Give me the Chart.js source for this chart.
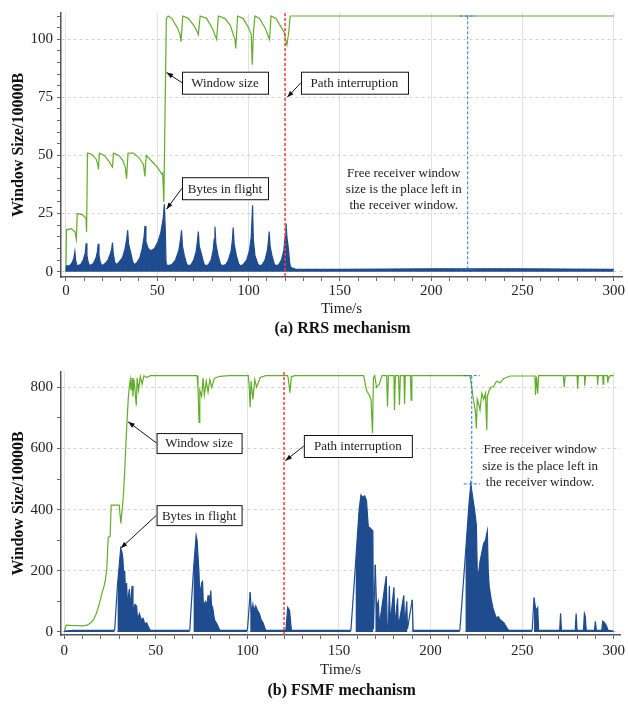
<!DOCTYPE html>
<html>
<head>
<meta charset="utf-8">
<script src="https://cdn.jsdelivr.net/npm/chart.js@4.4.1/dist/chart.umd.min.js"></script>
<style>
  body { margin: 0; background: #fff; width: 628px; height: 705px; overflow: hidden; }
  .panel { position: absolute; left: 0; width: 628px; }
</style>
</head>
<body>
<div class="panel" style="top:0;height:340px"><canvas id="rrs" width="628" height="340"></canvas></div>
<div class="panel" style="top:340px;height:365px"><canvas id="fsmf" width="628" height="365"></canvas></div>
<script>
// tick labels and tick marks
const timeTicks = [0, 50, 100, 150, 200, 250, 300];
const timeMarks = [0, 10, 20, 30, 40, 50, 60, 70, 80, 90, 100, 110, 120, 130, 140, 150, 160, 170, 180, 190,
  200, 210, 220, 230, 240, 250, 260, 270, 280, 290, 300];
const rrsTicks = [0, 25, 50, 75, 100];
const rrsMarks = [0, 5, 10, 15, 20, 25, 30, 35, 40, 45, 50, 55, 60, 65, 70, 75, 80, 85, 90, 95, 100, 105, 110];
const fsmfTicks = [0, 200, 400, 600, 800];
const fsmfMarks = [0, 100, 200, 300, 400, 500, 600, 700, 800];

// (a) RRS: [time s, size /10000B]
const rrsWindow = [
  [0, 0], [0.3, 18], [3, 18.5], [5, 17], [5.7, 14], [6.2, 25], [9, 24.5], [11, 23], [11.3, 17],
  [11.8, 51], [14, 50.5], [16.5, 48.5], [17.5, 46], [17.8, 44], [18.3, 51], [21, 50], [24, 47],
  [25, 45.5], [25.5, 45], [26, 51], [29, 50], [31, 48], [32.5, 45], [33.2, 40], [34, 51], [37, 51],
  [40, 49], [42.5, 46], [43.2, 41], [44, 50], [47, 47.5], [50, 45], [52.5, 42], [53, 42.5], [53.6, 30],
  [54.3, 70], [55, 109], [56, 110], [58, 109], [61, 105], [62.5, 102], [63, 99], [64, 110], [67, 109],
  [70, 106], [72, 103], [72.5, 102], [73.5, 110], [77, 109], [80, 105], [82, 101], [82.5, 100],
  [83.5, 110], [87, 109], [90, 106], [92.5, 100], [93, 96], [94, 110], [97, 109], [100, 105],
  [101.5, 102], [102, 89], [102.7, 103], [103.5, 110], [106, 109], [109, 105], [111, 101], [111.5, 100],
  [112.3, 110], [115, 109], [118, 105], [119.5, 103], [120.5, 99], [121, 97.5], [122, 103], [122.8, 110],
  [150, 110], [200, 110], [250, 110], [300, 110]
];
const rrsFlight = [
  [0, 0], [0.3, 2.5], [2, 2.5], [3.5, 4], [4.4, 6], [4.9, 8.6], [5.3, 5], [6, 2.5],
  [8, 3], [9.5, 5], [10.6, 8], [11.1, 12.2], [11.5, 7], [12.2, 4], [13, 2.5],
  [15, 3.5], [16.5, 6], [17.2, 8.5], [17.7, 12], [18.1, 7], [18.8, 4], [19.8, 2.5],
  [21.5, 3.5], [23, 5], [24.5, 8], [25.1, 10], [25.5, 12.5], [25.9, 8], [26.7, 4], [27.8, 3],
  [29, 4], [31, 6], [32.4, 10], [33.3, 14], [33.8, 17.8], [34.3, 12], [35.5, 8], [36.5, 4.5], [37.5, 3],
  [39, 4], [40.5, 6], [41.8, 10], [42.8, 15], [43.3, 19.6], [43.8, 13], [45, 10], [46.5, 9], [48.5, 10],
  [50.5, 13], [52, 17], [53.3, 23], [53.9, 29], [54.4, 18], [54.8, 4], [55.5, 2.5],
  [58, 3], [60, 5], [61.8, 9], [62.8, 14], [63.3, 17.8], [63.8, 11], [64.8, 7], [66, 3.5], [67, 2.5],
  [68.5, 3], [70, 5], [71.3, 8.6], [72, 13], [72.5, 17.3], [73, 11], [74.4, 7], [75.5, 3.5], [76.5, 2.5],
  [78, 3], [79.5, 5], [80.6, 9], [81.2, 14], [81.6, 19.3], [82.1, 12], [83.3, 7], [84.5, 3.5], [85.5, 2.5],
  [87.5, 3], [89, 5], [90.5, 9], [91.2, 14], [91.6, 19], [92.1, 12], [93.3, 7], [94.5, 3.5], [95.5, 2.5],
  [97, 3], [99, 5], [100.5, 9], [101.5, 15], [102.2, 28.6], [102.6, 14], [103.5, 7], [105, 3.5], [106, 2.5],
  [107.5, 3], [109, 5], [110.3, 9], [110.9, 13], [111.3, 17.3], [111.8, 11], [112.8, 7], [114, 3.5], [115, 2.5],
  [116.5, 3], [118, 5], [119.3, 9], [120, 15], [120.5, 20.7], [121, 15], [121.8, 10], [122.5, 4], [123, 2],
  [124, 1.5], [126, 1], [150, 1], [200, 1.2], [250, 1.2], [300, 1]
];

// (b) FSMF
const fsmfWindow = [
  [0, 0], [1, 22], [5, 21], [10, 20], [12.5, 22], [14.5, 30], [16, 40], [17.5, 60], [18.7, 83],
  [19.7, 105], [20.5, 126], [21.5, 145], [22.3, 165], [23.2, 205], [24, 310], [25, 312], [25.6, 415],
  [30, 415], [30.5, 380], [30.9, 355], [31.9, 420], [32.5, 470], [33, 530], [34, 660], [35, 770],
  [35.5, 800], [36, 825], [36.5, 790], [37, 830], [37.5, 770], [38, 825], [38.5, 800], [39.3, 740],
  [39.8, 830], [40.5, 790], [41.5, 835], [42.5, 810], [43.5, 838], [45, 832], [47, 838], [72.5, 838],
  [73, 800], [73.6, 685], [74, 790], [75, 770], [75.8, 830], [76.5, 775], [77.5, 820], [78.5, 785],
  [79.5, 825], [80.5, 800], [82, 830], [85, 836], [90, 838], [100.5, 838], [101, 800], [101.5, 735],
  [102, 820], [103, 760], [104, 825], [105, 800], [107, 832], [110, 838], [122, 838], [122.5, 820],
  [123.2, 782], [124, 835], [126, 838], [163.5, 838], [165, 790], [166.5, 775], [167.5, 760],
  [168.3, 650], [168.8, 830], [169.5, 838], [170.5, 800], [172, 810], [173.5, 838], [176, 838],
  [176.5, 737], [177, 838], [180, 838], [180.3, 726], [180.8, 838], [182.5, 838], [183, 742],
  [183.5, 838], [185.5, 838], [185.8, 745], [186.2, 838], [189, 838], [189.4, 758], [189.8, 838],
  [221.5, 838], [222.5, 800], [223.4, 760], [224.5, 720], [225, 666], [225.5, 760], [226.5, 740],
  [227, 726], [228, 780], [229, 760], [230, 780], [230.7, 660], [231, 770], [232, 790], [233, 800],
  [234.4, 802], [236, 820], [238, 815], [240, 829], [243.6, 837], [257, 837], [257.3, 775], [257.8, 835],
  [258.5, 780], [259, 838], [272.5, 838], [273, 800], [273.5, 838], [280, 838], [280.3, 795],
  [280.7, 838], [284, 838], [284.2, 805], [284.6, 838], [291, 838], [291.2, 808], [291.6, 838],
  [294, 838], [294.2, 810], [294.6, 838], [296.5, 838], [296.8, 815], [297.2, 830], [298, 838], [300, 838]
];
const fsmfFlight = [
  [0, 3], [5, 5], [27.5, 5], [29, 150], [30.8, 273], [31.5, 260], [32, 240], [32.5, 180], [33, 200],
  [33.5, 110], [34, 160], [34.5, 90], [35.5, 140], [36, 80], [37, 150], [37.5, 60], [38.5, 90],
  [39.5, 85], [40, 40], [41, 60], [42, 40], [43, 45], [44, 25], [45, 30], [46, 15], [47, 5], [68.5, 5],
  [70.5, 200], [72, 315], [72.5, 300], [73.5, 200], [74, 120], [75, 160], [75.5, 165], [76, 80],
  [77, 100], [78, 90], [78.5, 120], [79, 60], [80, 135], [80.5, 70], [81, 80], [82, 40], [83, 30],
  [85, 5], [100, 5], [101.5, 130], [102.2, 60], [103, 90], [103.5, 70], [104.5, 85], [105.5, 70],
  [106.5, 60], [107.5, 40], [108.5, 30], [110, 5], [121, 5], [122, 80], [123, 70], [124, 5],
  [156.5, 5], [159, 220], [161, 400], [162, 448], [163, 440], [164, 445], [165, 430], [166, 344],
  [167, 340], [168.5, 330], [168.8, 10], [169.8, 220], [170.5, 80], [171.5, 100], [172, 20],
  [175.8, 183], [176.3, 20], [177, 20], [177.5, 150], [178, 30], [180, 146], [180.5, 20], [182, 110],
  [182.4, 15], [185.4, 120], [185.8, 15], [187, 100], [187.4, 10], [190, 105], [190.5, 5], [216, 5],
  [219, 250], [221, 420], [222, 484], [223, 440], [224, 400], [225, 350], [225.5, 200], [226, 180],
  [227, 230], [228, 260], [229, 290], [230, 300], [231, 330], [231.5, 200], [232, 150], [233, 110],
  [234, 80], [235, 60], [236, 45], [237, 50], [238, 40], [240, 30], [242, 10], [243, 5], [255.5, 5],
  [256.5, 112], [257.5, 70], [258.5, 80], [259, 5], [270.5, 5], [271, 61], [271.5, 5], [279, 5],
  [279.5, 60], [280, 5], [283.5, 5], [284, 60], [284.5, 50], [285, 5], [289.5, 5], [290, 35],
  [290.5, 5], [293.5, 5], [294, 35], [295, 30], [296, 20], [297, 5], [300, 3]
];

Chart.defaults.font.family = '"Liberation Serif", "Times New Roman", serif';
Chart.defaults.color = '#222';

const GREEN = '#62ad28';
const BLUE = '#1f4c8f';

// callouts, cut line, free-window marker, caption
const notes = {
  id: 'notes',
  afterDatasetsDraw(chart, args, o) {
    const { ctx, chartArea: a } = chart;
    const x = chart.scales.x, y = chart.scales.y;
    ctx.save();

    // path interruption line
    const rx = x.getPixelForValue(o.cut);
    ctx.strokeStyle = '#ff3b3b';
    ctx.lineWidth = 1.5;
    ctx.setLineDash([3, 2]);
    ctx.beginPath(); ctx.moveTo(rx, a.top); ctx.lineTo(rx, a.bottom); ctx.stroke();

    // free receiver window span
    const fx = x.getPixelForValue(o.free.x);
    const f1 = y.getPixelForValue(o.free.y1), f2 = y.getPixelForValue(o.free.y2);
    ctx.strokeStyle = '#2f6fd6';
    ctx.lineWidth = 1;
    ctx.setLineDash([3, 2]);
    ctx.beginPath();
    ctx.moveTo(fx, f1); ctx.lineTo(fx, f2);
    ctx.moveTo(fx - 8, f1); ctx.lineTo(fx + 8, f1);
    ctx.moveTo(fx - 8, f2); ctx.lineTo(fx + 8, f2);
    ctx.stroke();
    ctx.setLineDash([]);

    ctx.font = '13px "Liberation Serif"';
    ctx.textAlign = 'center';
    ctx.textBaseline = 'middle';
    ctx.fillStyle = '#222';
    const tx = x.getPixelForValue(o.text.x);
    o.text.lines.forEach(l => ctx.fillText(l[1], tx, y.getPixelForValue(l[0])));

    // callout boxes
    o.boxes.forEach(b => {
      const cx = x.getPixelForValue(b.x), cy = y.getPixelForValue(b.y);
      const px = x.getPixelForValue(b.tip[0]), py = y.getPixelForValue(b.tip[1]);
      const left = cx - b.w / 2;
      ctx.strokeStyle = '#111';
      ctx.fillStyle = '#111';
      ctx.lineWidth = 1;
      ctx.beginPath(); ctx.moveTo(left, cy); ctx.lineTo(px, py); ctx.stroke();
      const ang = Math.atan2(py - cy, px - left);
      ctx.beginPath();
      ctx.moveTo(px, py);
      ctx.lineTo(px - 7 * Math.cos(ang - 0.35), py - 7 * Math.sin(ang - 0.35));
      ctx.lineTo(px - 7 * Math.cos(ang + 0.35), py - 7 * Math.sin(ang + 0.35));
      ctx.closePath(); ctx.fill();
      ctx.fillStyle = '#fff';
      ctx.fillRect(left, cy - b.h / 2, b.w, b.h);
      ctx.strokeRect(left + 0.5, cy - b.h / 2 + 0.5, b.w, b.h);
      ctx.fillStyle = '#222';
      ctx.fillText(b.text, cx, cy + 1);
    });

    // caption
    ctx.font = 'bold 16px "Liberation Serif"';
    ctx.fillStyle = '#111';
    ctx.fillText(o.caption, (a.left + a.right) / 2 + 1, a.bottom + o.captionGap);
    ctx.restore();
  }
};

// steep climbs from the floor are drawn as a bare line, not filled
const rampFill = c => (c.p0.parsed.y <= 10 && c.p1.parsed.y >= 100) ? 'rgba(0,0,0,0)' : undefined;

function makeChart(id, c) {
  return new Chart(document.getElementById(id), {
    type: 'line',
    data: {
      datasets: [{
        label: 'Bytes in flight',
        data: c.flight,
        borderColor: BLUE,
        backgroundColor: BLUE,
        borderWidth: 1.2,
        fill: 'origin',
        pointRadius: 0,
        tension: 0,
        segment: { backgroundColor: rampFill }
      }, {
        label: 'Window size',
        data: c.window,
        borderColor: GREEN,
        borderWidth: 1.2,
        fill: false,
        pointRadius: 0,
        tension: 0
      }]
    },
    plugins: [notes],
    options: {
      responsive: false,
      animation: false,
      layout: { padding: c.padding },
      plugins: {
        legend: { display: false },
        tooltip: { enabled: false },
        notes: c.notes
      },
      scales: {
        x: {
          type: 'linear',
          min: c.xMin,
          max: c.xMax,
          afterBuildTicks: s => { s.ticks = timeMarks.map(v => ({ value: v })); },
          afterFit: s => { s.height = c.xHeight; },
          ticks: {
            font: { size: 15 }, color: '#222', padding: c.xPad, maxRotation: 0, autoSkip: false,
            callback: v => timeTicks.includes(v) ? String(v) : ''
          },
          grid: {
            color: g => timeTicks.includes(g.tick && g.tick.value) ? '#e2e2e2' : 'rgba(0,0,0,0)',
            tickLength: 4, tickColor: '#666'
          },
          border: { color: '#555', width: 1.5 },
          title: { display: true, text: 'Time/s', font: { size: 15 }, color: '#222', padding: { top: 0, bottom: 1 } }
        },
        y: {
          min: c.yMin,
          max: c.yMax,
          afterBuildTicks: s => { s.ticks = c.yMarks.map(v => ({ value: v })); },
          afterFit: s => { s.width = 61; },
          ticks: {
            font: { size: 15 }, color: '#222', padding: 4, autoSkip: false,
            callback: v => c.yTicks.includes(v) ? String(v) : ''
          },
          grid: {
            color: g => c.yTicks.includes(g.tick && g.tick.value) ? '#d2d2d2' : 'rgba(0,0,0,0)',
            tickLength: 4, tickColor: '#666'
          },
          border: { color: '#555', width: 1.5, dash: [3, 3] },
          title: { display: true, text: 'Window Size/10000B', font: { size: 16, weight: 'bold' }, color: '#111', padding: { top: 9, bottom: 0 } }
        }
      }
    }
  });
}

makeChart('rrs', {
  flight: rrsFlight, window: rrsWindow, yTicks: rrsTicks, yMarks: rrsMarks,
  xMin: -2.7, xMax: 304.5, yMin: -2.3, yMax: 111.3,
  padding: { top: 12, right: 6, bottom: 21, left: 0 },
  xHeight: 42, xPad: 1,
  notes: {
    cut: 120,
    free: { x: 220, y1: 1, y2: 110 },
    text: { x: 185, lines: [[42.3, 'Free receiver window'], [35.4, 'size is the place left in'], [28.5, 'the receiver window.']] },
    boxes: [
      { text: 'Window size', x: 87.1, y: 81.3, w: 86, h: 22, tip: [55.1, 85.7] },
      { text: 'Bytes in flight', x: 87.1, y: 35.9, w: 86, h: 22, tip: [55.1, 26.9] },
      { text: 'Path interruption', x: 158, y: 81.3, w: 107, h: 22, tip: [121.2, 75] }
    ],
    caption: '(a) RRS mechanism',
    captionGap: 52
  }
});

makeChart('fsmf', {
  flight: fsmfFlight, window: fsmfWindow, yTicks: fsmfTicks, yMarks: fsmfMarks,
  xMin: -1.8, xMax: 303.6, yMin: -10, yMax: 850,
  padding: { top: 32, right: 5, bottom: 25, left: 0 },
  xHeight: 45, xPad: 3,
  notes: {
    cut: 120,
    free: { x: 222.5, y1: 484, y2: 838 },
    text: { x: 259.8, lines: [[595, 'Free receiver window'], [540, 'size is the place left in'], [488, 'the receiver window.']] },
    boxes: [
      { text: 'Window size', x: 73.6, y: 617.6, w: 85, h: 20, tip: [34.9, 687] },
      { text: 'Bytes in flight', x: 73.6, y: 382, w: 85, h: 20, tip: [30.8, 273.5] },
      { text: 'Path interruption', x: 160.3, y: 608, w: 108, h: 22, tip: [120.7, 560] }
    ],
    caption: '(b) FSMF mechanism',
    captionGap: 56
  }
});
</script>
</body>
</html>
